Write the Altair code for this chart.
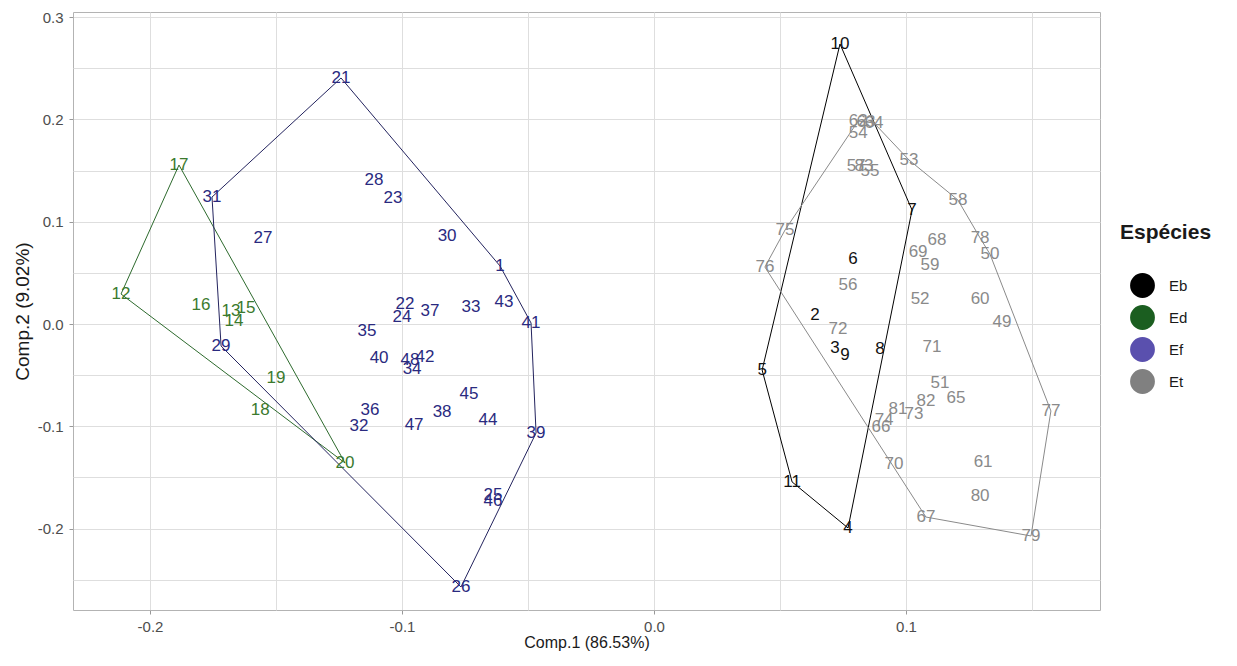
import altair as alt
import pandas as pd

# ---------------- data ----------------
species = ["Eb", "Ed", "Ef", "Et"]

eb_ids = [2, 3, 4, 5, 6, 7, 8, 9, 10, 11]
eb_x = [0.0639, 0.0718, 0.0770, 0.0429, 0.0790, 0.1024, 0.0897, 0.0758, 0.0738, 0.0548]
eb_y = [0.0088, -0.0235, -0.1994, -0.0450, 0.0635, 0.1114, -0.0244, -0.0303, 0.2737, -0.1544]
eb_hull = [10, 7, 4, 11, 5]

ed_ids = [12, 13, 14, 15, 16, 17, 18, 19, 20]
ed_x = [-0.2115, -0.1679, -0.1667, -0.1619, -0.1798, -0.1885, -0.1563, -0.1500, -0.1226]
ed_y = [0.0293, 0.0127, 0.0029, 0.0156, 0.0186, 0.1554, -0.0841, -0.0528, -0.1359]
ed_hull = [12, 17, 20]

ef_ids = [1, 21, 22, 23, 24, 25, 26, 27, 28, 29, 30, 31, 32, 33, 34, 35, 36, 37, 38,
          39, 40, 41, 42, 43, 44, 45, 46, 47, 48]
ef_x = [-0.0611, -0.1242, -0.0988, -0.1036, -0.1000, -0.0639, -0.0766, -0.1552, -0.1111,
        -0.1718, -0.0821, -0.1754, -0.1171, -0.0726, -0.0960, -0.1139, -0.1127, -0.0889,
        -0.0841, -0.0468, -0.1091, -0.0488, -0.0909, -0.0595, -0.0659, -0.0734, -0.0639,
        -0.0952, -0.0968]
ef_y = [0.0567, 0.2405, 0.0196, 0.1232, 0.0068, -0.1672, -0.2571, 0.0841, 0.1408,
        -0.0215, 0.0860, 0.1241, -0.0997, 0.0166, -0.0440, -0.0068, -0.0841, 0.0127,
        -0.0860, -0.1065, -0.0332, 0.0010, -0.0323, 0.0215, -0.0938, -0.0684, -0.1730,
        -0.0987, -0.0352]
ef_hull = [21, 1, 41, 39, 26, 29, 31]

et_ids = [49, 50, 51, 52, 53, 54, 55, 56, 57, 58, 59, 60, 61, 62, 63, 64, 65, 66, 67,
          68, 69, 70, 71, 72, 73, 74, 75, 76, 77, 78, 79, 80, 81, 82, 83]
et_x = [0.1381, 0.1333, 0.1135, 0.1056, 0.1012, 0.0810, 0.0857, 0.0770, 0.0802, 0.1206,
        0.1095, 0.1294, 0.1306, 0.0810, 0.0841, 0.0873, 0.1198, 0.0901, 0.1079, 0.1123,
        0.1048, 0.0952, 0.1103, 0.0730, 0.1032, 0.0913, 0.0520, 0.0440, 0.1575, 0.1294,
        0.1496, 0.1294, 0.0968, 0.1079, 0.0833]
et_y = [0.0020, 0.0684, -0.0577, 0.0244, 0.1603, 0.1867, 0.1496, 0.0381, 0.1544, 0.1212,
        0.0577, 0.0244, -0.1349, 0.1984, 0.1975, 0.1965, -0.0723, -0.1007, -0.1887, 0.0821,
        0.0704, -0.1369, -0.0225, -0.0049, -0.0880, -0.0938, 0.0919, 0.0557, -0.0850, 0.0841,
        -0.2072, -0.1681, -0.0831, -0.0753, 0.1544]
et_hull = [62, 64, 53, 58, 78, 50, 77, 79, 67, 76, 75]

x_ticks = [-0.2, -0.15, -0.1, -0.05, 0.0, 0.05, 0.1, 0.15]
y_ticks = [-0.25, -0.2, -0.15, -0.1, -0.05, 0.0, 0.05, 0.1, 0.15, 0.2, 0.25, 0.3]

legend_colors = ["#000000", "#1b5e20", "#5a50ae", "#808080"]
text_colors = ["#111111", "#3b7a2e", "#2a2a7f", "#8a8a8a"]
line_colors = ["#000000", "#2d6a2d", "#23235e", "#8a8a8a"]

FONT = "Liberation Sans"

# ---------------- build tables ----------------
groups = {
    "Eb": (eb_ids, eb_x, eb_y, eb_hull),
    "Ed": (ed_ids, ed_x, ed_y, ed_hull),
    "Ef": (ef_ids, ef_x, ef_y, ef_hull),
    "Et": (et_ids, et_x, et_y, et_hull),
}
rows, hull_rows = [], []
for i, sp in enumerate(species):
    ids, xs, ys, hull = groups[sp]
    lookup = {}
    for k, xv, yv in zip(ids, xs, ys):
        rows.append({"id": str(k), "x": xv, "y": yv, "sp": sp, "tcol": text_colors[i]})
        lookup[k] = (xv, yv)
    for j, k in enumerate(hull + [hull[0]]):
        hull_rows.append({"x": lookup[k][0], "y": lookup[k][1], "sp": sp,
                          "ord": j, "lcol": line_colors[i]})
pts = pd.DataFrame(rows)
hulls = pd.DataFrame(hull_rows)

major = "abs(datum.value*10 - round(datum.value*10)) < 0.001"
lab = "replace(format(datum.value, '.1f'), '\u2212', '-')"

xaxis = alt.Axis(values=x_ticks, title="Comp.1 (86.53%)",
                 labelExpr=f"{major} ? {lab} : ''",
                 tickOpacity={"condition": {"test": major, "value": 1}, "value": 0},
                 labelPadding=5, titlePadding=0, titleFontSize=16)
yaxis = alt.Axis(values=y_ticks, title="Comp.2 (9.02%)",
                 labelExpr=f"{major} ? {lab} : ''",
                 tickOpacity={"condition": {"test": major, "value": 1}, "value": 0},
                 labelPadding=6, titlePadding=5, titleFontSize=19)

X = alt.X("x:Q", scale=alt.Scale(domain=[-0.23056, 0.17698], nice=False, zero=False), axis=xaxis)
Y = alt.Y("y:Q", scale=alt.Scale(domain=[-0.27957, 0.30499], nice=False, zero=False), axis=yaxis)

legend_layer = alt.Chart(pts).mark_point(filled=True, opacity=0, size=1).encode(
    x=X, y=Y,
    color=alt.Color("sp:N", scale=alt.Scale(domain=species, range=legend_colors),
                    legend=alt.Legend(title="Espécies", orient="none", legendX=1047, legendY=210,
                                      symbolType="circle", symbolSize=616, symbolOpacity=1,
                                      symbolStrokeWidth=0, symbolOffset=10,
                                      titleFontSize=21, titleFontWeight="bold",
                                      titleColor="#1a1a1a", titlePadding=30,
                                      labelFontSize=15, labelColor="#1a1a1a",
                                      labelOffset=14, rowPadding=7,
                                      titleFont=FONT, labelFont=FONT)),
)

hull_layer = alt.Chart(hulls).mark_line(strokeWidth=1).encode(
    x=X, y=Y, order="ord:Q", detail="sp:N",
    color=alt.Color("lcol:N", scale=None),
)

text_layer = alt.Chart(pts).mark_text(fontSize=17, font=FONT, baseline="middle").encode(
    x=X, y=Y, text="id:N",
    color=alt.Color("tcol:N", scale=None),
)

chart = alt.layer(legend_layer, hull_layer, text_layer).resolve_scale(
    color="independent"
).properties(
    width=1027, height=598,
    autosize=alt.AutoSizeParams(type="none"),
    padding={"left": 65, "top": 4, "right": 128, "bottom": 44},
).configure_view(
    stroke="#b3b3b3", strokeWidth=1
).configure_axis(
    grid=True, gridColor="#dedede", gridWidth=1, domain=False,
    tickColor="#999999", tickSize=4, labelFontSize=15, labelColor="#4d4d4d",
    labelFont=FONT, titleFont=FONT,
    titleFontWeight="normal", titleColor="#1a1a1a",
)

chart.save("out.html", embed_options={"renderer": "svg", "actions": False})
